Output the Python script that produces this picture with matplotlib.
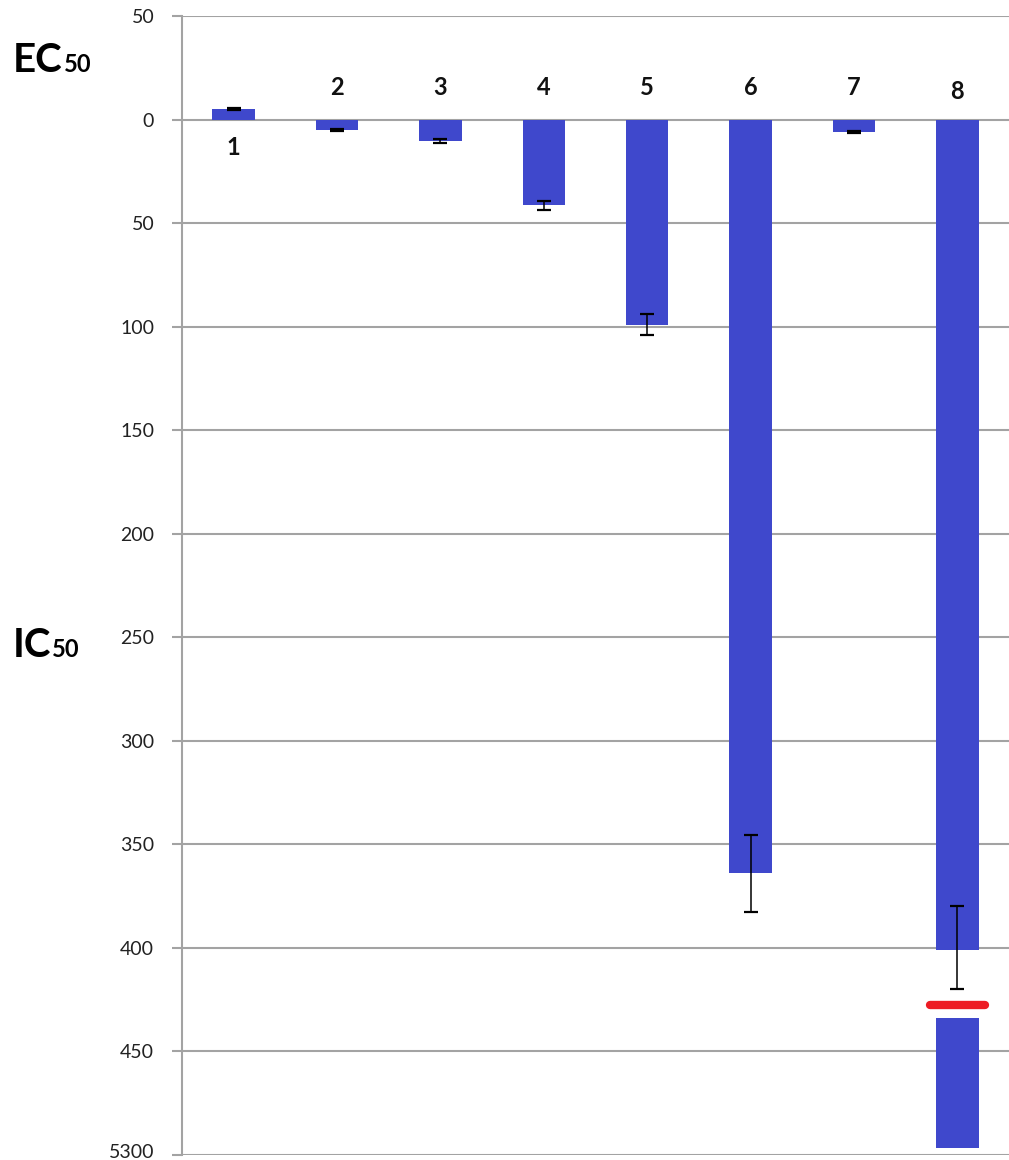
import numpy as np
import matplotlib
matplotlib.use('Agg')
from matplotlib import pyplot as plt
from matplotlib import transforms

plt.rcParams['font.family'] = ['Lato', 'DejaVu Sans']

compounds = ['1', '2', '3', '4', '5', '6', '7', '8']
# positive = EC50 (drawn upward), negative = IC50 (drawn downward)
values = [5, -5.2, -10.5, -41.5, -99, -364, -6, -4970]
errors = [0.5, 0.5, 1, 2, 5, 18.5, 0.5, 20]

tick_vals = [50, 0, -50, -100, -150, -200, -250, -300, -350, -400, -450, -500]
tick_labels = ['50', '0', '50', '100', '150', '200', '250', '300', '350', '400', '450', '5300']

# broken axis: everything past 450 is squeezed into the 450..500 band (500 = 5300)
brk_start, brk_end, brk_top = 450, 5300, 500
gap_top, gap_bottom, gap_mark = 400, 433.7, 427.5


def to_axis(v):
    a = abs(v)
    if a > brk_start:
        a = brk_start + (a - brk_start) * (brk_top - brk_start) / (brk_end - brk_start)
    return np.sign(v) * a


x = np.arange(1, len(compounds) + 1)
heights = np.array([to_axis(v) for v in values])
err_at = np.array([-gap_top if abs(v) > brk_start else to_axis(v) for v in values])

fig = plt.figure(figsize=(10.09, 11.6), dpi=100)
ax = fig.add_axes([182 / 1009, 1 - 1155 / 1160, 1 - 182 / 1009, (1155 - 16) / 1160])

bar_col = '#3f48cc'
grid_col = '#a3a3a3'

ax.bar(x, heights, width=0.41, color=bar_col, zorder=2)

# gap + red marker on the broken bar
for xi, v in zip(x, values):
    if abs(v) > brk_start:
        ax.add_patch(plt.Rectangle((xi - 0.3, -gap_bottom), 0.6, gap_bottom - gap_top - 0.8,
                                   color='white', zorder=3, lw=0))
        ax.plot([xi - 0.265, xi + 0.265], [-gap_mark, -gap_mark], color='#ed1c24',
                lw=6, solid_capstyle='round', zorder=5)

ax.errorbar(x, err_at, yerr=errors, fmt='none', ecolor='black', elinewidth=1.1,
            capsize=5, capthick=1.6, zorder=4)

# compound numbers
for xi, v, lab in zip(x, values, compounds):
    if v > 0:
        ly = -17
    elif abs(v) > brk_start:
        ly = 10
    else:
        ly = 12
    ax.text(xi, ly, lab, ha='center', va='baseline', fontsize=17, fontweight='bold',
            color='#111111')

ax.set_xlim(0.5, 8.5)
ax.set_ylim(-500, 50)
ax.set_yticks(tick_vals)
ax.set_yticklabels(tick_labels)
ax.set_xticks([])
ax.yaxis.grid(True, color=grid_col, lw=1.5, zorder=0)
ax.set_axisbelow(True)
ax.tick_params(axis='y', length=7, width=1.5, color=grid_col, pad=13, labelsize=14,
               labelcolor='#222222')
for s in ['top', 'right', 'bottom']:
    ax.spines[s].set_visible(False)
ax.spines['left'].set_color(grid_col)
ax.spines['left'].set_linewidth(1.5)

# lift the bottom label so it stays inside the figure
last = ax.get_yticklabels()[-1]
last.set_transform(last.get_transform() + transforms.ScaledTranslation(0, 4 / 100, fig.dpi_scale_trans))

# side labels: big letters followed by a smaller "50"
renderer = fig.canvas.get_renderer()
for word, base in [('EC', 72), ('IC', 657)]:
    t = fig.text(13 / 1009, 1 - base / 1160, word, fontsize=29, fontweight='bold',
                 ha='left', va='baseline')
    x1 = t.get_window_extent(renderer).x1
    fig.text(x1 / 1009 + 1 / 1009, 1 - base / 1160, '50', fontsize=17, fontweight='bold',
             ha='left', va='baseline')

fig.savefig('out.png', dpi=100)
